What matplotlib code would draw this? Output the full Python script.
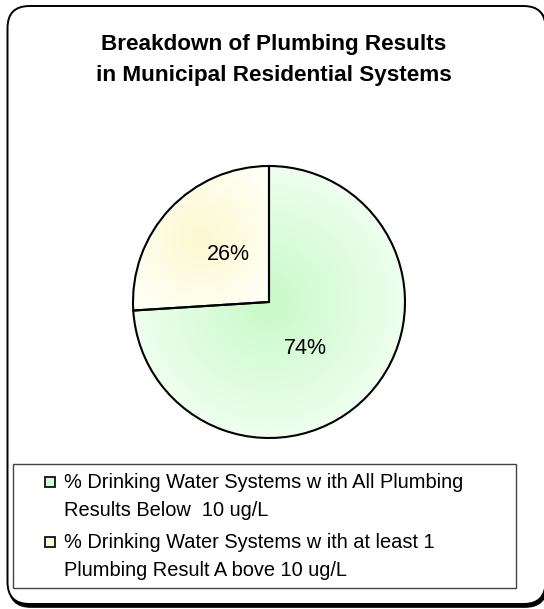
import numpy as np
import matplotlib.pyplot as plt
from matplotlib.patches import FancyBboxPatch, Rectangle
from matplotlib.colors import LinearSegmentedColormap

plt.rcParams['font.family'] = ['Liberation Sans', 'DejaVu Sans']

title = "Breakdown of Plumbing Results\nin Municipal Residential Systems"
labels = ["% Drinking Water Systems w ith All Plumbing\nResults Below  10 ug/L",
          "% Drinking Water Systems w ith at least 1\nPlumbing Result A bove 10 ug/L"]
shares = [74, 26]
inner_colors = ["#c8fac8", "#fcf8cf"]
outer_colors = ["#f2fff2", "#fffff3"]
legend_colors = ["#d0fcd0", "#fdfbd2"]

W, H = 544, 609
fig = plt.figure(figsize=(W / 100, H / 100), dpi=100)

# background axes in pixel coordinates for the frame and legend
bg = fig.add_axes([0, 0, 1, 1])
bg.set_xlim(0, W)
bg.set_ylim(H, 0)
bg.axis('off')
shadow = FancyBboxPatch((9, 8), 538, 599, boxstyle="round,pad=0,rounding_size=22",
                        facecolor='black', edgecolor='black', lw=1.2)
frame = FancyBboxPatch((7.5, 6), 538, 598, boxstyle="round,pad=0,rounding_size=22",
                       facecolor='white', edgecolor='black', lw=1.4)
bg.add_patch(shadow)
bg.add_patch(frame)

bg.text(274, 60, title, ha='center', va='center', fontsize=16.2,
        fontweight='bold', linespacing=1.65)

# pie axes: center (269, 302), radius 136 px
cx, cy, r = 269, 302, 136
ax = fig.add_axes([(cx - r) / W, 1 - (cy + r) / H, 2 * r / W, 2 * r / H])
wedges, texts = ax.pie(shares, colors=inner_colors, startangle=90, counterclock=False,
                       labels=[f"{v}%" for v in shares], labeldistance=None,
                       wedgeprops=dict(edgecolor='black', linewidth=1.5))
ax.set_xlim(-1, 1)
ax.set_ylim(-1, 1)

# radial gradient fill inside each wedge
yy, xx = np.mgrid[-1:1:400j, -1:1:400j]
for w, c_in, c_out in zip(wedges, inner_colors, outer_colors):
    ext = w.get_path().get_extents(w.get_patch_transform())
    gx, gy = (ext.x0 + ext.x1) / 2, (ext.y0 + ext.y1) / 2
    span = max(ext.width, ext.height) / 2
    d = np.clip(np.hypot(xx - gx, yy - gy) / (span * 1.1), 0, 1)
    cmap = LinearSegmentedColormap.from_list('g', [c_in, c_out])
    im = ax.imshow(d, cmap=cmap, extent=(-1, 1, -1, 1), origin='lower',
                   vmin=0, vmax=1, zorder=w.get_zorder() + 0.1, interpolation='bilinear')
    im.set_clip_path(w)
    w.set_facecolor('none')
    w.set_zorder(w.get_zorder() + 0.2)

# percentage labels
label_pos = [((305 - cx) / r, -(348 - cy) / r), ((228 - cx) / r, -(254 - cy) / r)]
for (lx, ly), v in zip(label_pos, shares):
    ax.text(lx, ly, f"{v}%", ha='center', va='center', fontsize=15.5, zorder=10)

# legend box with square keys next to the first line of each entry
bg.add_patch(Rectangle((12.5, 463.5), 503, 124, facecolor='white',
                       edgecolor='#444444', lw=1.0))
entry_top = [482, 542]
for y0, lab, c in zip(entry_top, labels, legend_colors):
    bg.add_patch(Rectangle((44.5, y0 - 5), 10, 10, facecolor=c, edgecolor='#111111', lw=1.3))
    for k, line in enumerate(lab.split("\n")):
        bg.text(64, y0 + k * 29, line, ha='left', va='center', fontsize=14.4)

fig.savefig('out.png', dpi=100)
